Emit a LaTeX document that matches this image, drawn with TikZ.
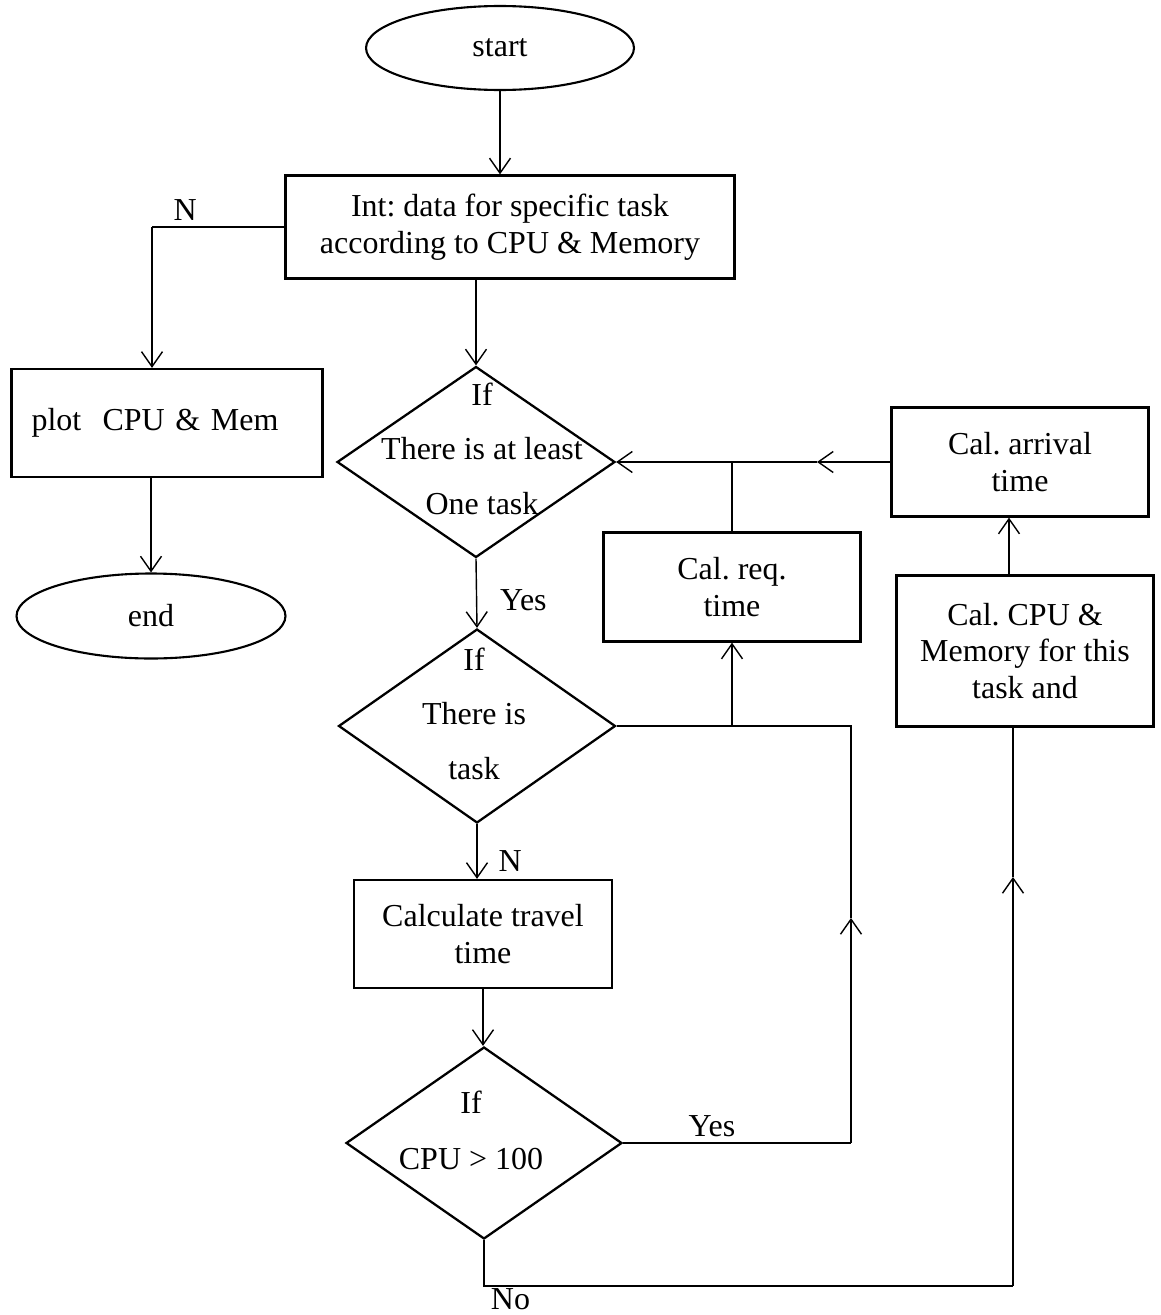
\documentclass[tikz,border=0pt]{standalone}
\usepackage{fontspec}
\setmainfont{Liberation Serif}
\usepackage{tikz}
\usetikzlibrary{positioning}
\usetikzlibrary{shapes.geometric,arrows.meta,calc}
\tikzset{
	every node/.style = {font=\fontsize{18.2}{21}\selectfont},
	term/.style = {ellipse, draw, line width=1.2pt, inner sep=0pt,
		minimum width=5.36cm, minimum height=1.68cm},
	block/.style = {rectangle, draw, line width=1.3pt, inner sep=0pt,
		align=center, minimum width=5.14cm, minimum height=2.18cm},
	decision/.style = {diamond, draw, line width=1.3pt, inner sep=0pt,
		minimum width=5.54cm, minimum height=3.84cm},
}
\begin{document}
\frenchspacing
\begin{tikzpicture}[>={Straight Barb[length=3mm,width=4.2mm]},
  x=0.02cm, y=-0.02cm, line width=0.8pt]
  \useasboundingbox (0,0) rectangle (1160,1315);
               \node at(500,48) (start) [term] {start};
               \node at(510,227) (init) [block, minimum width=8.98cm, minimum height=2.06cm]
                 {Int: data for specific task\\according to CPU \& Memory};
               \node at(167,423) (plot) [block, minimum width=6.22cm, minimum height=2.16cm,
                 text width=5.42cm, inner xsep=0.4cm, align=left] {plot\ \ CPU \& Mem};
               \node at(151,616) (end) [term, minimum width=5.38cm, minimum height=1.70cm] {end};
               \node at(476,462) (d1) [decision, minimum width=5.56cm, minimum height=3.82cm,
                 label={[align=center,yshift=0.27cm,xshift=0.12cm]center:{If\\[10pt]There is at least\\[10pt]One task}}] {};
               \node at(477,726) (d2) [decision, minimum height=3.88cm,
                 label={[align=center,yshift=0.25cm,xshift=-0.06cm]center:{If\\[10pt]There is\\[10pt]task}}] {};
               \node at(483,934) (calc) [block, minimum width=5.16cm, minimum height=2.16cm]
                 {Calculate travel\\time};
               \node at(484,1143) (d3) [decision, minimum width=5.52cm,
                 label={[align=center,yshift=0.26cm,xshift=-0.26cm]center:{If\\[11pt]CPU > 100}}] {};
               \node at(732,587) (req) [block] {Cal. req.\\time};
               \node at(1020,462) (arrival) [block] {Cal. arrival\\time};
               \node at(1025,651) (cpu) [block, minimum height=3.02cm]
                 {Cal. CPU \&\\Memory for this\\task and};
               % turning points
               \coordinate (nturn) at (152,227);
               \coordinate (arrmid) at (817,462);
               \coordinate (yesturn) at (851,1143);
               \coordinate (yesmid) at (851,918);
               \coordinate (yestop) at (851,726);
               \coordinate (nobend) at (484,1286);
               \coordinate (noturn) at (1013,1286);
               \coordinate (nomid) at (1013,877);
               \coordinate (upx) at (1009,0);
               % main line
               \draw[->] (start.south) -- (start.south |- init.north);
               \draw (init.west) -- node[above, pos=0.75] {N} (nturn);
               \draw[->] (nturn) -- (nturn |- plot.north);
               \draw[->] (end.north |- plot.south) -- (end.north);
               \draw[->] (d1.north |- init.south) -- (d1.north);
               \draw[->] (d1.south) -- node[right=0.34cm, pos=0.6] {Yes} (d2.north);
               \draw[->] (d2.south) -- node[right=0.3cm, pos=0.68] {N} (d2.south |- calc.north);
               \draw[->] (calc.south) -- (calc.south |- d3.north);
               % loops back
               \draw (d3.east) -- node[above, pos=0.39] {Yes} (yesturn);
               \draw[->] (yesturn) -- (yesmid);
               \draw (yesmid) -- (yestop) -- (d2.east);
               \draw[->] (req.south |- d2.east) -- (req.south);
               \draw (req.north) -- (req.north |- d1.east);
               \draw (d3.south) -- (nobend) -- node[below, pos=0.05, inner sep=1pt] {No} (noturn);
               \draw[->] (noturn) -- (nomid);
               \draw (nomid) -- (cpu.south -| nomid);
               \draw[->] (cpu.north -| upx) -- (arrival.south -| upx);
               \draw[->] (arrival.west) -- (arrmid);
               \draw[->] (arrmid) -- (d1.east);
        \end{tikzpicture}
\end{document}
